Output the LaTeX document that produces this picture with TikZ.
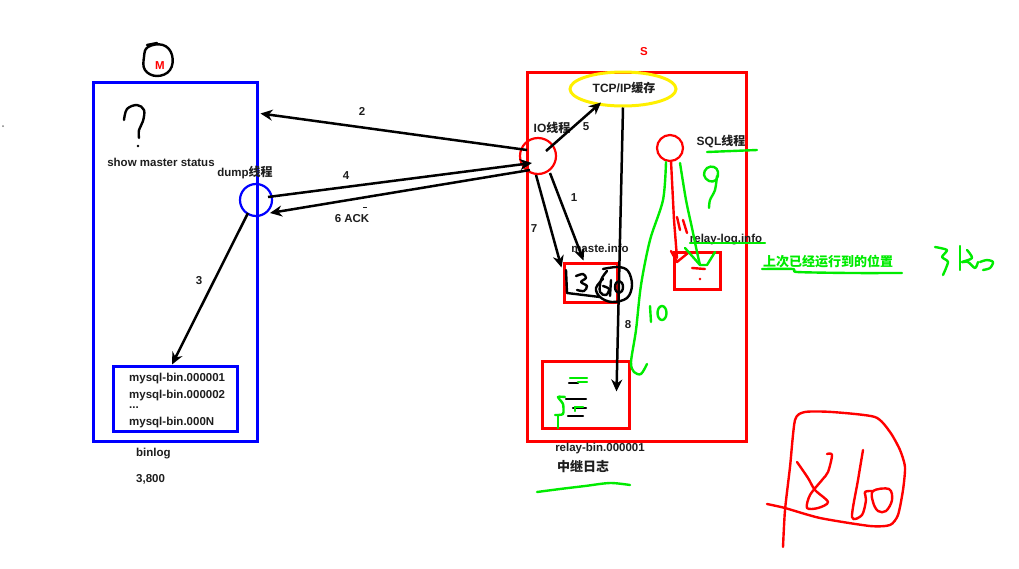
\documentclass[tikz,border=0pt]{standalone}
\usepackage{fontspec}
\setmainfont{Liberation Sans}
\newfontfamily\cjk{Noto Sans CJK SC}
\usetikzlibrary{arrows.meta,calc,shapes.geometric}
\definecolor{mblue}{RGB}{0,0,255}
\definecolor{mred}{RGB}{255,0,0}
\definecolor{mgreen}{RGB}{0,235,0}
\definecolor{myellow}{RGB}{255,240,0}
\definecolor{mtext}{RGB}{30,30,30}
\begin{document}
\begin{tikzpicture}[x=1pt,y=-1pt,
  lbl/.style={font=\fontsize{11.5}{13}\selectfont\bfseries, text=mtext, inner sep=0},
  cjklbl/.style={font=\fontsize{12}{14}\selectfont\bfseries, text=mtext, inner sep=0},
  arr/.style={draw=black, line width=2.5, -{Stealth[length=12,width=11]}},
  box/.style={rectangle, line width=3, inner sep=0},
  ring/.style={circle, line width=2.2, inner sep=0},
  hand/.style={line width=2.4, line cap=round, line join=round},
  greenhand/.style={hand, draw=mgreen},
  redhand/.style={hand, draw=mred},
  blackhand/.style={hand, draw=black}
]
\useasboundingbox (0,0) rectangle (1019,568);
\fill[gray] (3,126) circle (1);

% ---------------- Master ----------------
\node[box, draw=mblue, minimum width=164, minimum height=359] (mbox) at (175,261.5) {};
\node[lbl, text=mred] (mlabel) at (160,66) {M};
\draw[blackhand] plot[smooth cycle, tension=0.7] coordinates {(148,47) (163,45) (172,55) (170,70) (157,76) (145,70) (144,57)};
\draw[blackhand] (147,45) -- (157,43);
% question mark
\draw[blackhand] plot[smooth, tension=0.6] coordinates {(124,120) (127,109) (137,105) (144,110) (143,121) (139,130) (139,138)};
\fill (138,146) circle (1.3);
\node[lbl] (mstatus) at (161,162) {show master status};
\node[lbl] (dumplbl) at (245,173) {dump{\cjk\fontsize{12}{14}\selectfont 线程}};
\node[ring, draw=mblue, minimum size=32] (dump) at (256,200) {};
\node[box, draw=mblue, minimum width=124, minimum height=65] (binbox) at (175,398.5) {};
\node[lbl, anchor=west] (b1) at (129,379) {mysql-bin.000001};
\node[lbl, anchor=west] (b2) at (129,396) {mysql-bin.000002};
\node[lbl, anchor=west] (b3) at (129,408) {...};
\node[lbl, anchor=west] (b4) at (129,423) {mysql-bin.000N};
\node[lbl, anchor=west] (binlog) at (136,454) {binlog};
\node[lbl, anchor=west] (num) at (136,479) {3,800};

% ---------------- Slave ----------------
\node[box, draw=mred, minimum width=219, minimum height=369] (sbox) at (636.5,256.5) {};
\node[lbl, text=mred] (slabel) at (644,52) {S};
\node[ellipse, draw=myellow, line width=3, minimum width=106, minimum height=34, inner sep=0] (tcp) at (623,89) {};
\node[cjklbl] (tcplbl) at (624,88) {TCP/IP{\cjk 缓存}};
\node[ring, draw=mred, minimum size=36] (io) at (538,156) {};
\node[cjklbl] (iolbl) at (552,128) {IO{\cjk 线程}};
\node[ring, draw=mred, minimum size=26] (sql) at (670,148) {};
\node[cjklbl] (sqllbl) at (721,142) {SQL{\cjk 线程}};
\node[box, draw=mred, minimum width=53, minimum height=39] (maste) at (590.5,282.5) {};
\node[lbl] (mastelbl) at (600,248) {maste.info};
\node[box, draw=mred, minimum width=46, minimum height=37] (rlog) at (697,270.5) {};
\node[lbl] (rloglbl) at (726,240) {relay-log.info};
\node[box, draw=mred, minimum width=87, minimum height=67] (rbin) at (585.5,394.5) {};
\node[lbl] (rbinlbl) at (600,449) {relay-bin.000001};
\node[cjklbl, font=\cjk\fontsize{13}{15}\selectfont\bfseries] (zhongji) at (583,466) {中继日志};

% ---------------- connectors ----------------
\draw[arr] ($(io)+(-11,-6)$) -- ($(mbox.north east)+(2,33)$);
\draw[arr] ($(dump)+(12,-3)$) -- ($(io)+(-6,7)$);
\draw[arr] ($(io)+(-8,14)$) -- ($(dump)+(14,13)$);
\draw[arr] ($(dump)+(-8,13)$) -- ($(binbox.north)+(-3,0)$);
\draw[arr] ($(io)+(8,-5)$) -- ($(tcp.south)+(-22,-5)$);
\draw[arr] ($(io)+(12,17)$) -- ($(maste.north)+(-7,-1)$);
\draw[arr] ($(io)+(-2,19)$) -- ($(maste.north west)+(-1,6)$);
\draw[arr] (tcp.south) -- ($(rbin.north)+(31,32)$);

\node[lbl] (n2) at (362,111) {2};
\node[lbl] (n4) at (346,176) {4};
\node[lbl] (n6) at (352,219) {6 ACK};
\draw[line width=0.8, mtext] (363,207) -- (367,207);
\node[lbl] (n3) at (199,281) {3};
\node[lbl] (n5) at (586,127) {5};
\node[lbl] (n1) at (574,198) {1};
\node[lbl] (n7) at (534,229) {7};
\node[lbl] (n8) at (628,325) {8};

% ---------------- scribbles in maste.info ----------------
\draw[blackhand] (566,270) -- (567,293) -- (600,297);
\draw[blackhand] plot[smooth, tension=0.5] coordinates {(576,276) (583,274) (586,278) (581,282) (587,286) (584,291) (577,290)};
\draw[blackhand] plot[smooth, tension=0.6] coordinates {(603,269) (618,267) (628,271) (632,285) (627,298) (612,302) (600,297) (596,288) (603,279)};
\draw[blackhand] plot[smooth, tension=0.6] coordinates {(607,271) (601,280) (600,292) (606,295) (609,289) (603,286)};
\draw[blackhand] (611,280) -- (610,296);
\draw[blackhand] (619,287) ellipse (4 and 6);

% ---------------- SQL thread marks ----------------
\draw[redhand] (671,161) -- (674,220) -- (677,258);
\draw[redhand] (671,251) -- (677,262) -- (688,253);
\draw[redhand] (677,217) -- (680,230);
\draw[redhand] (683,220) -- (687,233);
\draw[redhand] (692,268) -- (705,269);
\fill[mred] (700,279) circle (1.3);

% green lines from SQL thread
\draw[greenhand] plot[smooth, tension=0.5] coordinates {(666,162) (663,200) (650,240) (641,285) (636,330) (631,362) (634,372) (641,374) (647,364)};
\draw[greenhand] plot[smooth, tension=0.5] coordinates {(680,163) (686,200) (692,228) (697,252) (700,265)};
\draw[greenhand] (685,248) -- (700,265) -- (707,265) -- (715,252);
\draw[greenhand] (690,243) -- (765,243);
% green 9
\draw[greenhand] plot[smooth cycle, tension=0.7] coordinates {(707,168) (714,167) (718,172) (716,180) (709,181) (704,175)};
\draw[greenhand] plot[smooth, tension=0.5] coordinates {(717,176) (715,190) (710,200) (709,208)};
\draw[greenhand] (707,152) -- (757,150);
% green 10
\draw[greenhand] (650,306) -- (651,322);
\draw[greenhand] (662,313) ellipse (4.5 and 7);
% relay-bin interior
\draw[blackhand] (569,383) -- (578,383);
\draw[blackhand] (566,399) -- (586,399);
\draw[blackhand] (573,408) -- (586,408);
\draw[blackhand] (568,416) -- (583,416);
\draw[greenhand] (570,378) -- (587,378);
\draw[greenhand] (578,382) -- (587,382);
\draw[greenhand] plot[smooth, tension=0.4] coordinates {(565,397) (558,397) (563,404) (563,414) (555,415)};
\draw[greenhand] (558,415) -- (558,428);
\draw[greenhand] (575,407) -- (583,407);
\draw[greenhand] (575,407) -- (575,411);
\draw[greenhand] plot[smooth, tension=0.5] coordinates {(537,492) (560,489) (585,486) (610,483) (630,485)};

% ---------------- annotations ----------------
\node[font=\cjk\fontsize{13}{15}\selectfont\bfseries, text=mgreen, inner sep=0] (pos) at (828,262) {上次已经运行到的位置};
\draw[greenhand] plot[smooth, tension=0.4] coordinates {(762,269) (793,269) (797,272) (850,273) (902,273)};
% green 3ku scribble
\draw[greenhand] plot[smooth, tension=0.4] coordinates {(935,247) (947,250) (942,257) (948,262) (943,275)};
\draw[greenhand] (960,246) -- (960,270);
\draw[greenhand] plot[smooth, tension=0.5] coordinates {(967,250) (972,258) (962,262) (968,262) (975,268) (978,262)};
\draw[greenhand] plot[smooth, tension=0.5] coordinates {(980,262) (987,260) (993,262) (990,268) (983,270)};

% red scribbled box
\draw[redhand] plot[smooth, tension=0.4] coordinates {(783,547) (785,510) (790,467) (795,420) (805,412) (832,412) (875,417) (890,432) (900,450) (905,467) (903,490) (898,515) (890,525) (870,526) (820,518) (785,508) (767,504)};
\draw[redhand] plot[smooth, tension=0.5] coordinates {(797,462) (808,478) (815,490) (828,502) (818,508) (807,508) (810,495) (822,480) (828,472) (832,455) (827,454)};
\draw[redhand] plot[smooth, tension=0.5] coordinates {(863,450) (858,480) (852,517) (862,515) (866,500) (865,492) (872,491)};
\draw[redhand] plot[smooth cycle, tension=0.6] coordinates {(873,491) (889,489) (892,500) (886,511) (878,511) (873,502)};
\end{tikzpicture}
\end{document}
